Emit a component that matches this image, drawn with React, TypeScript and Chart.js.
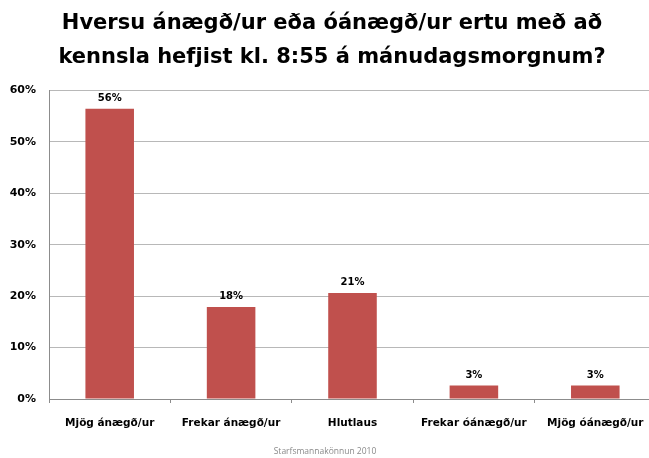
import React, { useEffect, useRef } from "react";
import { Chart, registerables } from "chart.js";

Chart.register(...registerables);

const titleLines = [
  "Hversu ánægð/ur eða óánægð/ur ertu með að",
  "kennsla hefjist kl. 8:55 á mánudagsmorgnum?",
];
const categories = [
  "Mjög ánægð/ur",
  "Frekar ánægð/ur",
  "Hlutlaus",
  "Frekar óánægð/ur",
  "Mjög óánægð/ur",
];
const values = [56.4, 17.9, 20.6, 2.6, 2.6];
const yTicks = [0, 10, 20, 30, 40, 50, 60];
const footerText = "Starfsmannakönnun 2010";

const FONT = "'DejaVu Sans', sans-serif";
const FOOT_FONT = "'Open Sans', sans-serif";

const dataLabels = {
  id: "dataLabels",
  afterDatasetsDraw(chart: any) {
    const ctx = chart.ctx;
    const meta = chart.getDatasetMeta(0);
    ctx.save();
    ctx.font = `bold 10px ${FONT}`;
    ctx.fillStyle = "#000";
    ctx.textAlign = "center";
    ctx.textBaseline = "alphabetic";
    meta.data.forEach((el: any, i: number) => {
      ctx.fillText(`${Math.round(values[i])}%`, el.x, el.y - 8);
    });
    ctx.restore();
  },
};

const footer = {
  id: "footer",
  afterDraw(chart: any) {
    const ctx = chart.ctx;
    ctx.save();
    ctx.font = `normal 8.5px ${FOOT_FONT}`;
    ctx.fillStyle = "#8a8a8a";
    ctx.textAlign = "center";
    ctx.textBaseline = "middle";
    ctx.fillText(footerText, 325, 452);
    ctx.restore();
  },
};

export default function App() {
  const ref = useRef<HTMLCanvasElement | null>(null);
  useEffect(() => {
    if (!ref.current) return;
    const chart = new Chart(ref.current, {
      type: "bar",
      data: {
        labels: categories,
        datasets: [
          {
            data: values,
            backgroundColor: "#C0504D",
            borderWidth: 0,
            barPercentage: 0.4,
            categoryPercentage: 1,
          },
        ],
      },
      options: {
        responsive: false,
        animation: false,
        layout: { padding: { left: 8, right: 6, top: 0, bottom: 28 } },
        plugins: {
          legend: { display: false },
          tooltip: { enabled: false },
          title: {
            display: true,
            text: titleLines,
            color: "#000",
            font: { family: FONT, size: 21, weight: "bold", lineHeight: 1.65 },
            padding: { top: 6, bottom: 15 },
          },
        },
        scales: {
          x: {
            offset: true,
            afterFit: (axis: any) => {
              axis.height = 31;
              axis.paddingLeft = 0;
              axis.paddingRight = 0;
            },
            grid: {
              offset: true,
              drawOnChartArea: false,
              drawTicks: true,
              tickLength: 4,
              color: "#8c8c8c",
            },
            border: { color: "#8c8c8c", width: 1 },
            ticks: {
              color: "#000",
              padding: 14,
              font: { family: FONT, size: 10.5, weight: "bold" },
              maxRotation: 0,
              autoSkip: false,
            },
          },
          y: {
            min: 0,
            max: 60,
            afterBuildTicks: (axis: any) => {
              axis.ticks = yTicks.map((v) => ({ value: v }));
            },
            afterFit: (axis: any) => {
              axis.width = 41;
            },
            grid: { color: "#b8b8b8", drawTicks: false },
            border: { color: "#8c8c8c", width: 1 },
            ticks: {
              color: "#000",
              padding: 13,
              font: { family: FONT, size: 11, weight: "bold" },
              callback: (v: any) => `${v}%`,
            },
          },
        },
      },
      plugins: [dataLabels, footer],
    });
    return () => chart.destroy();
  }, []);
  return (
    <div
      style={{
        position: "absolute",
        left: 0,
        top: 0,
        width: 649,
        height: 458,
        overflow: "hidden",
        background: "#fff",
      }}
    >
      <canvas ref={ref} width={662} height={458} style={{ width: 662, height: 458 }} />
    </div>
  );
}
